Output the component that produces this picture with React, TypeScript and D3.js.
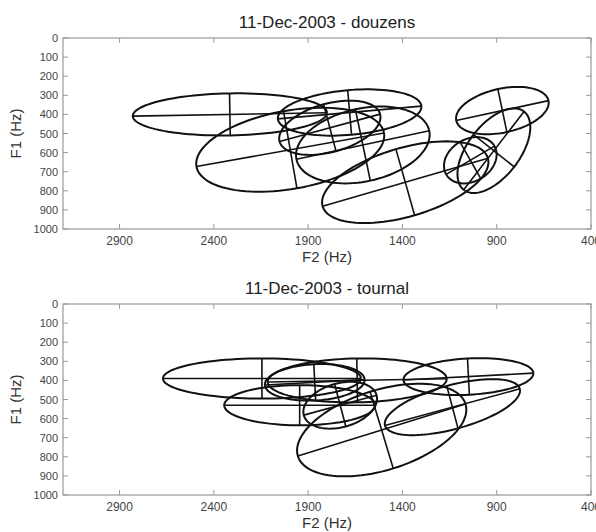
import React from "react";
import * as d3 from "d3";

const W = 596;
const H = 532;

const xTickValues = [2900, 2400, 1900, 1400, 900, 400];
const yTickValues = [0, 100, 200, 300, 400, 500, 600, 700, 800, 900, 1000];
const xDomain = [3200, 400];
const yDomain = [0, 1000];

const panelTitles = ["11-Dec-2003 - douzens", "11-Dec-2003 - tournal"];
const xLabel = "F2 (Hz)";
const yLabel = "F1 (Hz)";

// douzens: ellipse centres (F2, F1 in Hz), semi-axes (Hz), tilt (deg)
const douzensF2 = [2315, 1995, 1680, 1785, 1610, 1385, 870, 915, 1040];
const douzensF1 = [400, 585, 390, 470, 560, 755, 380, 590, 640];
const douzensMajor = [515, 505, 382, 276, 360, 456, 250, 260, 148];
const douzensMinor = [110, 205, 117, 127, 191, 180, 115, 137, 111];
const douzensAngle = [1, 10, 5, 15, 12, 16, 12, 52, 30];

// tournal
const tournalF2 = [2145, 1945, 1640, 1050, 1730, 1135, 1510, 1865];
const tournalF1 = [390, 530, 400, 380, 530, 540, 660, 410];
const tournalMajor = [525, 400, 475, 345, 200, 370, 465, 265];
const tournalMinor = [105, 105, 115, 95, 115, 115, 210, 95];
const tournalAngle = [0, 0, 1, 3, 15, 15, 17, 3];

type Ell = { f2: number; f1: number; a: number; b: number; ang: number };

function build(f2: number[], f1: number[], a: number[], b: number[], ang: number[]): Ell[] {
  return f2.map((v, i) => ({ f2: v, f1: f1[i], a: a[i], b: b[i], ang: ang[i] }));
}

const panels = [
  { title: panelTitles[0], top: 38, ells: build(douzensF2, douzensF1, douzensMajor, douzensMinor, douzensAngle) },
  { title: panelTitles[1], top: 304, ells: build(tournalF2, tournalF1, tournalMajor, tournalMinor, tournalAngle) },
];

const left = 63;
const right = 591;
const plotH = 191;
const font = "'Liberation Sans', Arial, sans-serif";

function Panel({ title, top, ells }: { title: string; top: number; ells: Ell[] }) {
  const x = d3.scaleLinear().domain(xDomain).range([left, right]);
  const y = d3.scaleLinear().domain(yDomain).range([top, top + plotH]);
  const line = d3.line<[number, number]>().x((p) => x(p[0])).y((p) => y(p[1]));
  const ts = d3.range(0, 101).map((i) => (i / 100) * Math.PI * 2);
  const cx = (left + right) / 2;
  return (
    <g>
      <text x={cx} y={top - 10} textAnchor="middle" fontSize={17} fill="#222" fontFamily={font}>
        {title}
      </text>
      <rect x={left} y={top} width={right - left} height={plotH} fill="#fff" stroke="#999" strokeWidth={1.2} />
      {xTickValues.map((t) => (
        <g key={"x" + t}>
          <line x1={x(t)} x2={x(t)} y1={top + plotH} y2={top + plotH - 5} stroke="#999" />
          <line x1={x(t)} x2={x(t)} y1={top} y2={top + 5} stroke="#999" />
          <text x={x(t)} y={top + plotH + 16} textAnchor="middle" fontSize={12} fill="#444" fontFamily={font}>
            {t}
          </text>
        </g>
      ))}
      {yTickValues.map((t) => (
        <g key={"y" + t}>
          <line x1={left} x2={left + 5} y1={y(t)} y2={y(t)} stroke="#999" />
          <line x1={right} x2={right - 5} y1={y(t)} y2={y(t)} stroke="#999" />
          <text x={left - 5} y={y(t) + 4} textAnchor="end" fontSize={11} fill="#444" fontFamily={font}>
            {t}
          </text>
        </g>
      ))}
      <text x={cx} y={top + plotH + 33} textAnchor="middle" fontSize={15} fill="#333" fontFamily={font}>
        {xLabel}
      </text>
      <text
        transform={`translate(21,${top + plotH / 2}) rotate(-90)`}
        textAnchor="middle"
        fontSize={15}
        fill="#333"
        fontFamily={font}
      >
        {yLabel}
      </text>
      {ells.map((e, i) => {
        const r = (e.ang * Math.PI) / 180;
        const d = [-Math.cos(r), -Math.sin(r)];
        const n = [-Math.sin(r), Math.cos(r)];
        const pts: [number, number][] = ts.map((t) => [
          e.f2 + e.a * Math.cos(t) * d[0] + e.b * Math.sin(t) * n[0],
          e.f1 + e.a * Math.cos(t) * d[1] + e.b * Math.sin(t) * n[1],
        ]);
        const major: [number, number][] = [
          [e.f2 - e.a * d[0], e.f1 - e.a * d[1]],
          [e.f2 + e.a * d[0], e.f1 + e.a * d[1]],
        ];
        const minor: [number, number][] = [
          [e.f2 - e.b * n[0], e.f1 - e.b * n[1]],
          [e.f2 + e.b * n[0], e.f1 + e.b * n[1]],
        ];
        return (
          <g key={i} fill="none" stroke="#111" strokeWidth={2}>
            <path d={line(pts) || ""} />
            <path d={line(major) || ""} strokeWidth={1.6} />
            <path d={line(minor) || ""} strokeWidth={1.6} />
          </g>
        );
      })}
    </g>
  );
}

export default function App() {
  return (
    <svg
      width={W}
      height={H}
      style={{ position: "absolute", left: 0, top: 0, background: "#fff" }}
    >
      <rect width={W} height={H} fill="#fff" />
      {panels.map((p, i) => (
        <Panel key={i} title={p.title} top={p.top} ells={p.ells} />
      ))}
    </svg>
  );
}
